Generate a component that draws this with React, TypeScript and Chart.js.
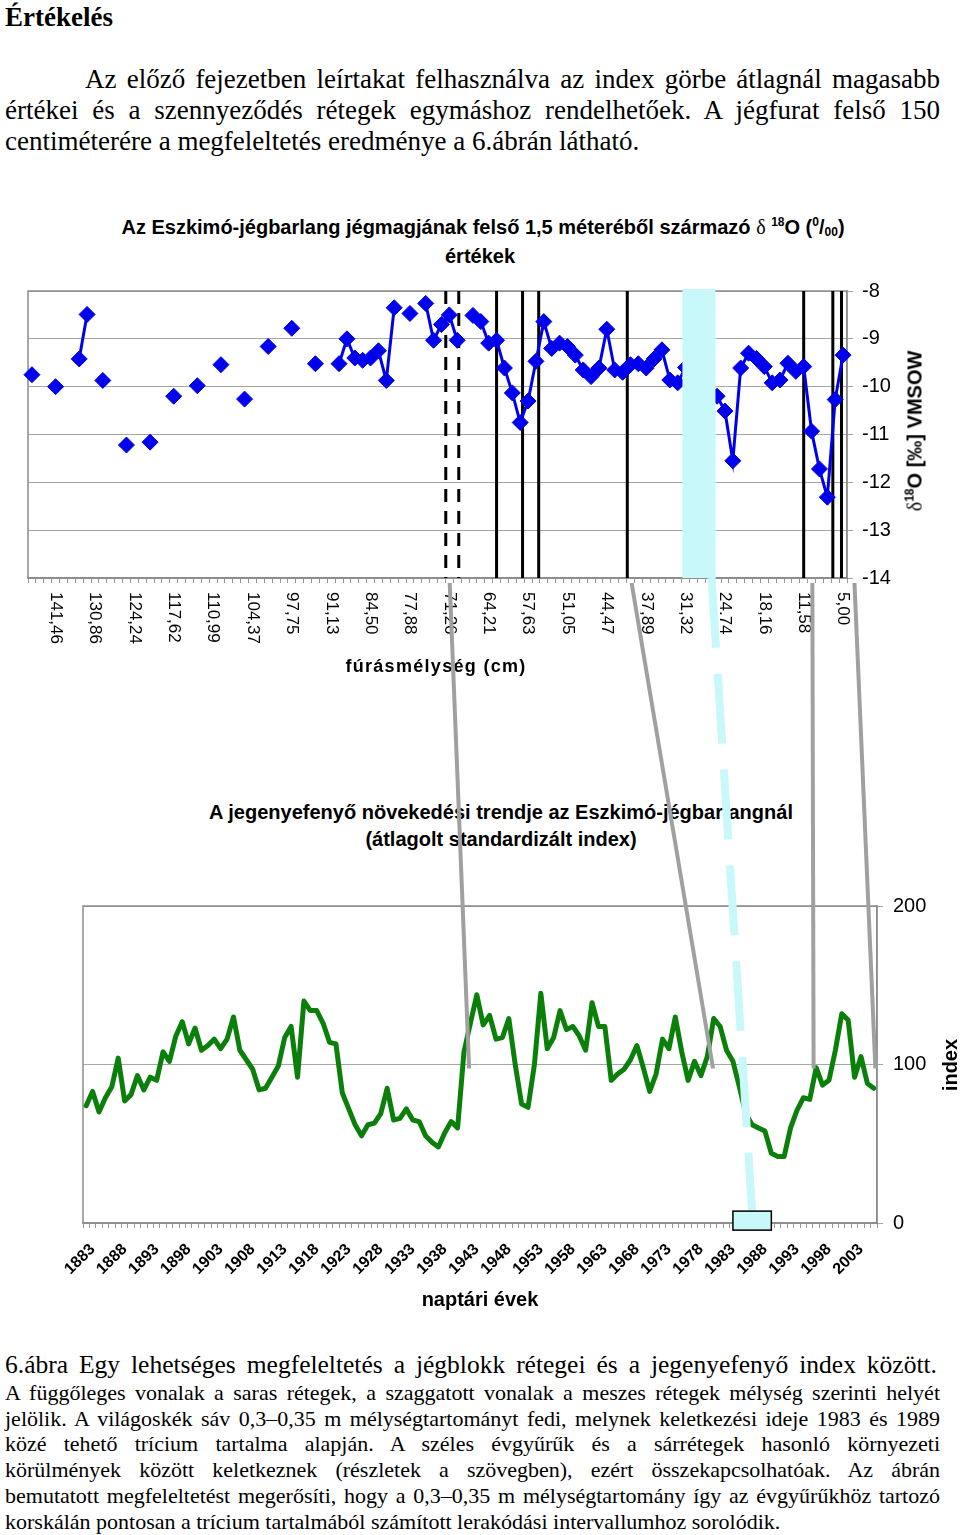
import React, { useEffect, useRef } from 'react';
import { Chart, registerables } from 'chart.js';

Chart.register(...registerables);

const SANS = '"Liberation Sans", Arial, sans-serif';
const SERIF = '"Liberation Serif", "Times New Roman", serif';
const BLUE = '#0000ee';
const CYAN = '#c8f8fa';
const GREEN = '#0a800a';

// ---------- upper chart: δ18O along the ice core (category axis, 104 samples) ----------
const depthTickLabels = [
  '141,46', '130,86', '124,24', '117,62', '110,99', '104,37', '97,75', '91,13', '84,50', '77,88',
  '71,26', '64,21', '57,63', '51,05', '44,47', '37,89', '31,32', '24.74', '18,16', '11,58', '5,00',
];
const depthSampleCount = 104;
const firstLabeledSample = 3;
const depthLabelStep = 5;

const deltaO18: (number | null)[] = [
  -9.75, null, null, -10.0, null, null, -9.42, -8.49, null, -9.87,
  null, null, -11.22, null, null, -11.16, null, null, -10.2, null,
  null, -9.98, null, null, -9.54, null, null, -10.26, null, null,
  -9.16, null, null, -8.78, null, null, -9.52, null, null, -9.52,
  -9.0, -9.4, -9.45, -9.4, -9.25, -9.87, -8.35, null, -8.47, null,
  -8.26, -9.03, -8.7, -8.5, -9.03, null, -8.51, -8.64, -9.09, -9.03,
  -9.61, -10.13, -10.75, -10.3, -9.47, -8.64, -9.2, -9.09, -9.16, -9.34,
  -9.65, -9.79, -9.61, -8.8, -9.65, -9.7, -9.54, -9.52, -9.61, -9.42,
  -9.23, -9.86, -9.92, -9.6, -9.8, -10.0, -10.1, -10.2, -10.51, -11.55,
  -9.61, -9.3, -9.41, -9.58, -9.92, -9.86, -9.51, -9.68, -9.58, -10.93,
  -11.72, -12.31, -10.27, -9.34,
];

// layer positions, in sample-index units of the depth axis
const calcareousLayers = [52.55, 54.2];
const mudLayers = [59.0, 62.3, 64.35, 75.6, 98.0, 101.7, 102.8];
const tritiumDepthBand = [82.6, 86.8];

// ---------- lower chart: tree-ring index per calendar year ----------
const firstYear = 1882;
const growthIndex = [
  74, 83, 70, 79, 86, 104, 77, 81, 93, 84, // 1882-1891
  92, 90, 108, 102, 118, 127, 113, 123, 109, 112, // 1892-1901
  116, 110, 116, 130, 109, 103, 97, 84, 85, 92, // 1902-1911
  99, 117, 124, 92, 140, 134, 134, 126, 114, 113, // 1912-1921
  82, 72, 62, 55, 62, 63, 69, 85, 65, 66, // 1922-1931
  72, 65, 64, 55, 51, 48, 57, 64, 60, 108, // 1932-1941
  126, 144, 125, 131, 116, 117, 129, 100, 75, 73, // 1942-1951
  100, 145, 110, 117, 134, 122, 124, 118, 109, 139, // 1952-1961
  124, 124, 90, 94, 97, 103, 112, 98, 83, 94, // 1962-1971
  116, 110, 130, 108, 90, 102, 93, 105, 129, 124, // 1972-1981
  109, 102, 86, 69, 62, 60, 58, 44, 42, 42, // 1982-1991
  60, 71, 79, 78, 98, 87, 90, 109, 132, 128, // 1992-2001
  92, 105, 88, 85, // 2002-2005
];
const yearLabelStart = 1883;
const yearLabelStep = 5;
const indexMin = 0;
const indexMax = 200;
const indexStep = 100;
const tritiumYears = [1983, 1989];
const tritiumBoxRange = [-4.5, 7.5];

// correlation connectors: depth sample index -> calendar year
const connectorDepths = [53.05, 76.15, 99.1, 104.45];
const connectorYears = [1941.8, 1979.9, 1995.6, 2005.25];
const connectorIndexLevel = 97.5;
const tritiumConnectorDepth = 86.3;

const years = Array.from({ length: growthIndex.length }, (_, i) => String(firstYear + i));
const depthCategories = Array.from({ length: depthSampleCount }, (_, i) => {
  const k = (i - firstLabeledSample) / depthLabelStep;
  return Number.isInteger(k) && k >= 0 && k < depthTickLabels.length ? depthTickLabels[k] : '';
});

const TOP_OFF = 270;
const BOT_OFF = 860;

function vline(ctx: CanvasRenderingContext2D, x: number, y1: number, y2: number) {
  ctx.beginPath();
  ctx.moveTo(x, y1);
  ctx.lineTo(x, y2);
  ctx.stroke();
}

const topDecor = {
  id: 'topDecor',
  beforeDatasetsDraw(chart: any) {
    const { ctx, chartArea: a, scales } = chart;
    const x = scales.x;
    ctx.save();
    ctx.strokeStyle = '#8c8c8c';
    ctx.lineWidth = 1.5;
    ctx.strokeRect(a.left, a.top, a.right - a.left, a.bottom - a.top);
    ctx.strokeStyle = '#000';
    ctx.lineWidth = 3;
    ctx.setLineDash([13, 9]);
    calcareousLayers.forEach((p) => vline(ctx, x.getPixelForValue(p), a.top, a.bottom));
    ctx.setLineDash([]);
    mudLayers.forEach((p) => vline(ctx, x.getPixelForValue(p), a.top, a.bottom));
    ctx.restore();
  },
  afterDatasetsDraw(chart: any) {
    const { ctx, chartArea: a, scales } = chart;
    const x1 = scales.x.getPixelForValue(tritiumDepthBand[0]);
    const x2 = scales.x.getPixelForValue(tritiumDepthBand[1]);
    ctx.save();
    ctx.fillStyle = CYAN;
    ctx.fillRect(x1, a.top - 2, x2 - x1, a.bottom - a.top + 2);
    ctx.restore();
  },
  afterDraw(chart: any) {
    const { ctx, chartArea: a, scales } = chart;
    const x = scales.x;
    ctx.save();
    ctx.fillStyle = '#000';
    ctx.font = `17px ${SANS}`;
    ctx.textAlign = 'left';
    ctx.textBaseline = 'middle';
    depthCategories.forEach((lab, i) => {
      if (!lab) return;
      ctx.save();
      ctx.translate(x.getPixelForValue(i), a.bottom + 14);
      ctx.rotate(Math.PI / 2);
      ctx.fillText(lab, 0, 0);
      ctx.restore();
    });
    ctx.font = `bold 18px ${SANS}`;
    if ('letterSpacing' in ctx) (ctx as any).letterSpacing = '1.3px';
    ctx.textAlign = 'center';
    ctx.fillText('fúrásmélység (cm)', 436, 667 - TOP_OFF);
    ctx.restore();
  },
};

const botDecor = {
  id: 'botDecor',
  beforeDatasetsDraw(chart: any) {
    const { ctx, chartArea: a } = chart;
    ctx.save();
    ctx.strokeStyle = '#8c8c8c';
    ctx.lineWidth = 1.5;
    ctx.strokeRect(a.left, a.top, a.right - a.left, a.bottom - a.top);
    ctx.restore();
  },
};

const supStyle: React.CSSProperties = { fontSize: '0.6em', verticalAlign: 'baseline', position: 'relative', top: '-0.7em' };
const subStyle: React.CSSProperties = { fontSize: '0.6em', verticalAlign: 'baseline', position: 'relative', top: '0.2em' };

function JLine({ text, top, left, width, size, last, bold }: { text: string; top: number; left: number; width: number; size: number; last?: boolean; bold?: boolean }) {
  return (
    <div
      style={{
        position: 'absolute',
        top,
        left,
        width,
        fontFamily: SERIF,
        fontSize: size,
        lineHeight: `${size}px`,
        fontWeight: bold ? 'bold' : 'normal',
        textAlign: last ? 'left' : 'justify',
        textAlignLast: last ? 'left' : 'justify',
        color: '#000',
      } as React.CSSProperties}
    >
      {text}
    </div>
  );
}

export default function App() {
  const topRef = useRef<HTMLCanvasElement>(null);
  const botRef = useRef<HTMLCanvasElement>(null);
  const ovRef = useRef<HTMLCanvasElement>(null);

  useEffect(() => {
    const top = new Chart(topRef.current as HTMLCanvasElement, {
      type: 'line',
      data: {
        labels: depthCategories,
        datasets: [
          {
            data: deltaO18,
            borderColor: BLUE,
            backgroundColor: BLUE,
            borderWidth: 3,
            pointStyle: 'rectRot',
            pointRadius: 8,
            pointBorderWidth: 1,
            pointBackgroundColor: BLUE,
            pointBorderColor: BLUE,
            spanGaps: false,
            tension: 0,
            clip: false as any,
          },
        ],
      },
      options: {
        animation: false,
        responsive: false,
        devicePixelRatio: 1,
        layout: { padding: { left: 28, top: 19, right: 53, bottom: 0 } },
        plugins: { legend: { display: false }, tooltip: { enabled: false } },
        scales: {
          x: {
            type: 'category',
            offset: true,
            grid: { offset: true, drawOnChartArea: false, drawTicks: true, tickLength: 5, color: '#999', lineWidth: 1 },
            border: { display: true, color: '#8c8c8c', width: 1.5 },
            ticks: { display: false, autoSkip: false },
            afterFit: (s: any) => { s.height = 122; },
          },
          y: {
            position: 'right',
            min: -14,
            max: -8,
            ticks: { stepSize: 1, color: '#000', font: { family: SANS, size: 20 }, padding: 9 },
            grid: { color: '#a6a6a6', lineWidth: 1, tickLength: 6, drawTicks: true },
            border: { display: true, color: '#8c8c8c', width: 1.5 },
            afterFit: (s: any) => { s.width = 60; },
          },
        },
      } as any,
      plugins: [topDecor],
    });

    const bot = new Chart(botRef.current as HTMLCanvasElement, {
      type: 'line',
      data: {
        labels: years,
        datasets: [
          {
            data: growthIndex,
            borderColor: GREEN,
            borderWidth: 5,
            pointRadius: 0,
            tension: 0,
            borderJoinStyle: 'round',
            borderCapStyle: 'round',
            fill: false,
          },
        ],
      },
      options: {
        animation: false,
        responsive: false,
        devicePixelRatio: 1,
        layout: { padding: { left: 83, top: 46, right: 3, bottom: 0 } },
        plugins: { legend: { display: false }, tooltip: { enabled: false } },
        scales: {
          x: {
            type: 'category',
            offset: true,
            grid: { offset: true, drawOnChartArea: false, drawTicks: true, tickLength: 5, color: '#999', lineWidth: 1 },
            border: { display: true, color: '#8c8c8c', width: 1.5 },
            ticks: {
              autoSkip: false,
              minRotation: 45,
              maxRotation: 45,
              padding: 12,
              color: '#000',
              font: { family: SANS, size: 16, weight: 'bold' },
              callback: (_v: any, i: number) => {
                const y = firstYear + i;
                return (y - yearLabelStart) % yearLabelStep === 0 && y >= yearLabelStart ? String(y) : '';
              },
            },
            title: {
              display: true,
              text: 'naptári évek',
              color: '#000',
              font: { family: SANS, size: 20, weight: 'bold' },
              padding: { top: 0, bottom: 18 },
            },
            afterFit: (s: any) => { s.height = 107; },
          },
          y: {
            position: 'right',
            min: indexMin,
            max: indexMax,
            ticks: { stepSize: indexStep, color: '#000', font: { family: SANS, size: 20 }, padding: 10 },
            grid: { color: '#a6a6a6', lineWidth: 1, tickLength: 6, drawTicks: true },
            border: { display: true, color: '#8c8c8c', width: 1.5 },
            afterFit: (s: any) => { s.width = 80; },
          },
        },
      } as any,
      plugins: [botDecor],
    });

    const ov = ovRef.current as HTMLCanvasElement;
    const ctx = ov.getContext('2d') as CanvasRenderingContext2D;
    ctx.clearRect(0, 0, ov.width, ov.height);
    const tx = (d: number) => top.scales.x.getPixelForValue(d);
    const bx = (yr: number) => bot.scales.x.getPixelForValue(yr - firstYear);
    const by = (v: number) => BOT_OFF + bot.scales.y.getPixelForValue(v);
    const yStart = TOP_OFF + top.chartArea.bottom + 5;

    ctx.save();
    ctx.strokeStyle = '#a0a0a0';
    ctx.lineWidth = 4;
    connectorDepths.forEach((d, i) => {
      ctx.beginPath();
      ctx.moveTo(tx(d), yStart);
      ctx.lineTo(bx(connectorYears[i]), by(connectorIndexLevel));
      ctx.stroke();
    });
    const boxTop = by(tritiumBoxRange[1]);
    const boxBot = by(tritiumBoxRange[0]);
    const bx1 = bx(tritiumYears[0]);
    const bx2 = bx(tritiumYears[1]);
    ctx.strokeStyle = CYAN;
    ctx.lineWidth = 8;
    ctx.setLineDash([70, 26]);
    ctx.beginPath();
    ctx.moveTo(tx(tritiumConnectorDepth), TOP_OFF + top.chartArea.bottom);
    ctx.lineTo((bx1 + bx2) / 2, boxTop);
    ctx.stroke();
    ctx.setLineDash([]);
    ctx.fillStyle = CYAN;
    ctx.fillRect(bx1, boxTop, bx2 - bx1, boxBot - boxTop);
    ctx.strokeStyle = '#000';
    ctx.lineWidth = 1.5;
    ctx.strokeRect(bx1, boxTop, bx2 - bx1, boxBot - boxTop);
    ctx.restore();

    return () => {
      top.destroy();
      bot.destroy();
    };
  }, []);

  const titleStyle: React.CSSProperties = {
    position: 'absolute',
    fontFamily: SANS,
    fontWeight: 'bold',
    fontSize: 20,
    lineHeight: '20px',
    whiteSpace: 'nowrap',
    transform: 'translateX(-50%)',
    color: '#000',
  };

  const captionLines = [
    'A függőleges vonalak a saras rétegek, a szaggatott vonalak a meszes rétegek mélység szerinti helyét',
    'jelölik. A világoskék sáv 0,3–0,35 m mélységtartományt fedi, melynek keletkezési ideje 1983 és 1989',
    'közé tehető trícium tartalma alapján. A széles évgyűrűk és a sárrétegek hasonló környezeti',
    'körülmények között keletkeznek (részletek a szövegben), ezért összekapcsolhatóak. Az ábrán',
    'bemutatott megfeleltetést megerősíti, hogy a 0,3–0,35 m mélységtartomány így az évgyűrűkhöz tartozó',
    'korskálán pontosan a trícium tartalmából számított lerakódási intervallumhoz sorolódik.',
  ];
  const captionTops = [1381.6, 1407.6, 1432.6, 1458.6, 1484.6, 1510.6];

  return (
    <div style={{ position: 'absolute', left: 0, top: 0, width: 960, height: 1535, background: '#fff', overflow: 'hidden' }}>
      <JLine text="Értékelés" top={4.4} left={5} width={300} size={27} last bold />
      <JLine text="Az előző fejezetben leírtakat felhasználva az index görbe átlagnál magasabb" top={66.4} left={85} width={855} size={27} />
      <JLine text="értékei és a szennyeződés rétegek egymáshoz rendelhetőek. A jégfurat felső 150" top={97.4} left={5} width={935} size={27} />
      <JLine text="centiméterére a megfeleltetés eredménye a 6.ábrán látható." top={128.4} left={5} width={935} size={27} last />

      <div style={{ ...titleStyle, left: 483, top: 217 }}>
        Az Eszkimó-jégbarlang jégmagjának felső 1,5 méteréből származó{' '}
        <span style={{ fontFamily: SERIF, fontWeight: 'normal' }}>δ</span>{' '}
        <span style={supStyle}>18</span>O (<span style={supStyle}>0</span>/<span style={subStyle}>00</span>)
      </div>
      <div style={{ ...titleStyle, left: 480, top: 246 }}>értékek</div>

      <canvas ref={topRef} width={960} height={430} style={{ position: 'absolute', left: 0, top: TOP_OFF, width: 960, height: 430 }} />

      <div
        style={{
          position: 'absolute',
          left: 916,
          top: 431,
          transform: 'translate(-50%, -50%) rotate(-90deg)',
          fontFamily: SANS,
          fontWeight: 'bold',
          fontSize: 20,
          lineHeight: '20px',
          whiteSpace: 'nowrap',
          color: '#000',
        }}
      >
        <span style={{ fontFamily: SERIF, fontWeight: 'normal' }}>δ</span>
        <span style={supStyle}>18</span>O [‰] VMSOW
      </div>

      <div style={{ ...titleStyle, left: 501, top: 802 }}>A jegenyefenyő növekedési trendje az Eszkimó-jégbarlangnál</div>
      <div style={{ ...titleStyle, left: 501, top: 829 }}>(átlagolt standardizált index)</div>

      <canvas ref={botRef} width={960} height={470} style={{ position: 'absolute', left: 0, top: BOT_OFF, width: 960, height: 470 }} />

      <div
        style={{
          position: 'absolute',
          left: 950,
          top: 1065,
          transform: 'translate(-50%, -50%) rotate(-90deg)',
          fontFamily: SANS,
          fontWeight: 'bold',
          fontSize: 20,
          lineHeight: '20px',
          whiteSpace: 'nowrap',
          color: '#000',
        }}
      >
        index
      </div>

      <JLine text="6.ábra Egy lehetséges megfeleltetés a jégblokk rétegei és a jegenyefenyő index között." top={1351.5} left={5} width={932} size={25.5} />
      {captionLines.map((t, i) => (
        <JLine key={i} text={t} top={captionTops[i]} left={5} width={935} size={22} last={i === captionLines.length - 1} />
      ))}

      <canvas ref={ovRef} width={960} height={1535} style={{ position: 'absolute', left: 0, top: 0, width: 960, height: 1535, pointerEvents: 'none' }} />
    </div>
  );
}
